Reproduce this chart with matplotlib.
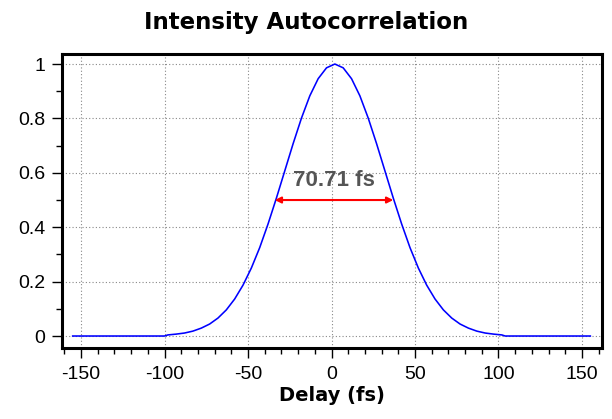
import matplotlib
matplotlib.use("Agg")
import matplotlib.pyplot as plt
from matplotlib.ticker import MultipleLocator

delay_fs = [-155, -100, -98, -93, -88, -83, -78, -73, -68, -63, -58, -53, -48, -43,
            -38, -33, -28, -23, -18, -13, -8, -3, 2, 7, 12, 17, 22, 27, 32, 37, 42,
            47, 52, 57, 62, 67, 72, 77, 82, 87, 92, 97, 102, 104, 155]
intensity = [0, 0, 0.004, 0.007, 0.011, 0.018, 0.029, 0.044, 0.066, 0.096, 0.136,
             0.187, 0.25, 0.325, 0.412, 0.507, 0.607, 0.707, 0.801, 0.883, 0.946,
             0.986, 1.0, 0.986, 0.946, 0.883, 0.801, 0.707, 0.607, 0.507, 0.412,
             0.325, 0.25, 0.187, 0.136, 0.096, 0.066, 0.044, 0.029, 0.018, 0.011,
             0.007, 0.004, 0, 0]
fwhm_start, fwhm_end, fwhm_level = -34, 37, 0.5
fwhm_label = "70.71 fs"
x_ticks = [-150, -100, -50, 0, 50, 100, 150]
y_ticks = [0, 0.2, 0.4, 0.6, 0.8, 1]
y_tick_labels = ["0", "0.2", "0.4", "0.6", "0.8", "1"]

plt.rcParams['font.family'] = ['Liberation Sans', 'DejaVu Sans']
plt.rcParams['axes.unicode_minus'] = False

fig = plt.figure(figsize=(6.12, 4.19), dpi=100)
ax = fig.add_axes([0.1013, 0.1695, 0.8824, 0.7017])

ax.plot(delay_fs, intensity, color='#0000ff', lw=1.15, zorder=3)

ax.annotate('', xy=(fwhm_start, fwhm_level), xytext=(fwhm_end, fwhm_level),
            arrowprops=dict(arrowstyle='<|-|>', color='red', lw=1.5,
                            mutation_scale=9, shrinkA=0, shrinkB=0), zorder=4)
ax.text((fwhm_start + fwhm_end) / 2, 0.57, fwhm_label, ha='center', va='center',
        fontsize=16, fontweight='bold', color='#555555', zorder=5)

ax.set_xlim(-161.4, 162)
ax.set_ylim(-0.044, 1.037)
ax.set_xticks(x_ticks)
ax.set_yticks(y_ticks)
ax.set_yticklabels(y_tick_labels)
ax.xaxis.set_minor_locator(MultipleLocator(10))
ax.yaxis.set_minor_locator(MultipleLocator(0.1))
ax.tick_params(which='major', direction='out', length=7, width=1, labelsize=14, colors='black')
ax.tick_params(axis='x', which='major', pad=6)
ax.tick_params(axis='y', which='major', pad=5)
ax.tick_params(which='minor', direction='out', length=4, width=1)
ax.grid(True, which='major', color='#888888', linestyle=(0, (1, 2)), lw=0.8)
for s in ax.spines.values():
    s.set_linewidth(2.2)
    s.set_color('black')

fig.text(0.5, 1 - 22 / 419, "Intensity Autocorrelation", ha='center', va='center',
         fontsize=16.5, fontweight='bold', family='DejaVu Sans')
ax.set_xlabel("Delay (fs)", fontsize=14, fontweight='bold', family='DejaVu Sans', labelpad=2)

fig.savefig("out.png", dpi=100, facecolor='white')
